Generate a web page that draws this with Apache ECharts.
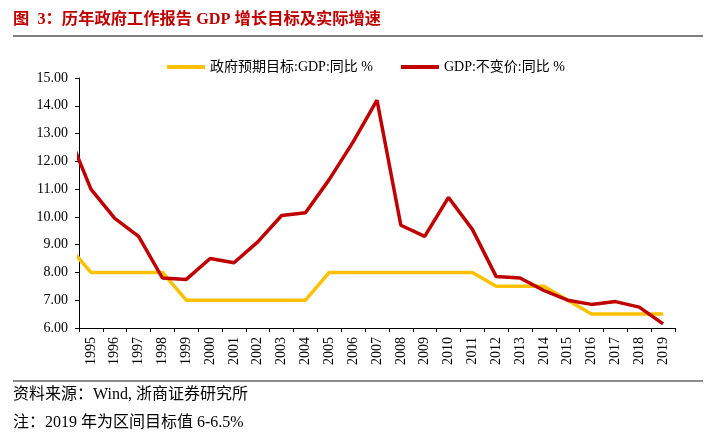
<!DOCTYPE html>
<html>
<head>
<meta charset="utf-8">
<script src="https://cdn.jsdelivr.net/npm/echarts@6/dist/echarts.min.js"></script>
<style>
html,body{margin:0;padding:0;background:#fff;}
#c{width:714px;height:444px;}
</style>
</head>
<body>
<div id="c"></div>
<script>
// Years shown on axis
var years = ['1995','1996','1997','1998','1999','2000','2001','2002','2003','2004','2005','2006','2007','2008','2009','2010','2011','2012','2013','2014','2015','2016','2017','2018','2019'];
// Data years include 1994 (clipped at left edge)
var dataYears = [1994,1995,1996,1997,1998,1999,2000,2001,2002,2003,2004,2005,2006,2007,2008,2009,2010,2011,2012,2013,2014,2015,2016,2017,2018,2019];
var targetGDP = [9.0,8.0,8.0,8.0,8.0,7.0,7.0,7.0,7.0,7.0,7.0,8.0,8.0,8.0,8.0,8.0,8.0,8.0,7.5,7.5,7.5,7.0,6.5,6.5,6.5,6.5];
var actualGDP = [13.1,11.0,9.95,9.3,7.8,7.75,8.5,8.35,9.1,10.05,10.15,11.35,12.7,14.2,9.7,9.3,10.7,9.55,7.85,7.8,7.35,7.0,6.85,6.95,6.75,6.15];
var yTicks = {min: 6, max: 15, interval: 1};

var serif = '"Liberation Serif","Noto Sans CJK SC",serif';

function pairs(vals){ return dataYears.map(function(y,i){ return [y, vals[i]]; }); }

var chart = echarts.init(document.getElementById('c'), null, {renderer:'canvas'});
chart.setOption({
  backgroundColor: '#fff',
  animation: false,
  grid: {left: 79, right: 39, top: 78, bottom: 116},
  legend: {
    top: 55, left: 162,
    itemWidth: 38, itemHeight: 4, itemGap: 28,
    icon: 'rect',
    textStyle: {fontFamily: serif, fontSize: 14, color: '#000'},
    data: ['政府预期目标:GDP:同比 %', 'GDP:不变价:同比 %']
  },
  xAxis: [{
    type: 'category',
    data: years,
    boundaryGap: true,
    axisLine: {lineStyle: {color: '#000', width: 1}},
    axisTick: {show: true, length: 4, lineStyle: {color: '#000'}},
    axisLabel: {rotate: 90, fontFamily: serif, fontSize: 14, color: '#000', margin: 9},
    splitLine: {show: false}
  },{
    type: 'value',
    min: 1994.5, max: 2019.5,
    show: false,
    splitLine: {show: false}
  }],
  yAxis: {
    type: 'value',
    min: yTicks.min, max: yTicks.max, interval: yTicks.interval,
    axisLine: {show: true, lineStyle: {color: '#000', width: 1}},
    axisTick: {show: true, length: 4, lineStyle: {color: '#000'}},
    axisLabel: {fontFamily: serif, fontSize: 14, color: '#000', margin: 11,
      formatter: function(v){ return v.toFixed(2); }},
    splitLine: {show: false}
  },
  series: [{
    name: '政府预期目标:GDP:同比 %',
    type: 'line',
    xAxisIndex: 1,
    data: pairs(targetGDP),
    showSymbol: false,
    clip: true,
    lineStyle: {color: '#FFC000', width: 3.5},
    itemStyle: {color: '#FFC000'},
    z: 2
  },{
    name: 'GDP:不变价:同比 %',
    type: 'line',
    xAxisIndex: 1,
    data: pairs(actualGDP),
    showSymbol: false,
    clip: true,
    lineStyle: {color: '#C00000', width: 3.5},
    itemStyle: {color: '#C00000'},
    z: 3
  }],
  graphic: [
    {type: 'text', left: 13, top: 12, style: {text: '图  3：历年政府工作报告 GDP 增长目标及实际增速', fontFamily: serif, fontSize: 16.3, fontWeight: 'bold', fill: '#C00000'}},
    {type: 'rect', shape: {x: 13, y: 35, width: 690, height: 2}, style: {fill: '#7F7F7F'}},
    {type: 'rect', shape: {x: 13, y: 380, width: 690, height: 2}, style: {fill: '#8C8C8C'}},
    {type: 'text', left: 13, top: 387, style: {text: '资料来源：Wind, 浙商证券研究所', fontFamily: serif, fontSize: 16, fill: '#000'}},
    {type: 'text', left: 13, top: 415, style: {text: '注：2019 年为区间目标值 6-6.5%', fontFamily: serif, fontSize: 16, fill: '#000'}}
  ]
});
</script>
</body>
</html>
